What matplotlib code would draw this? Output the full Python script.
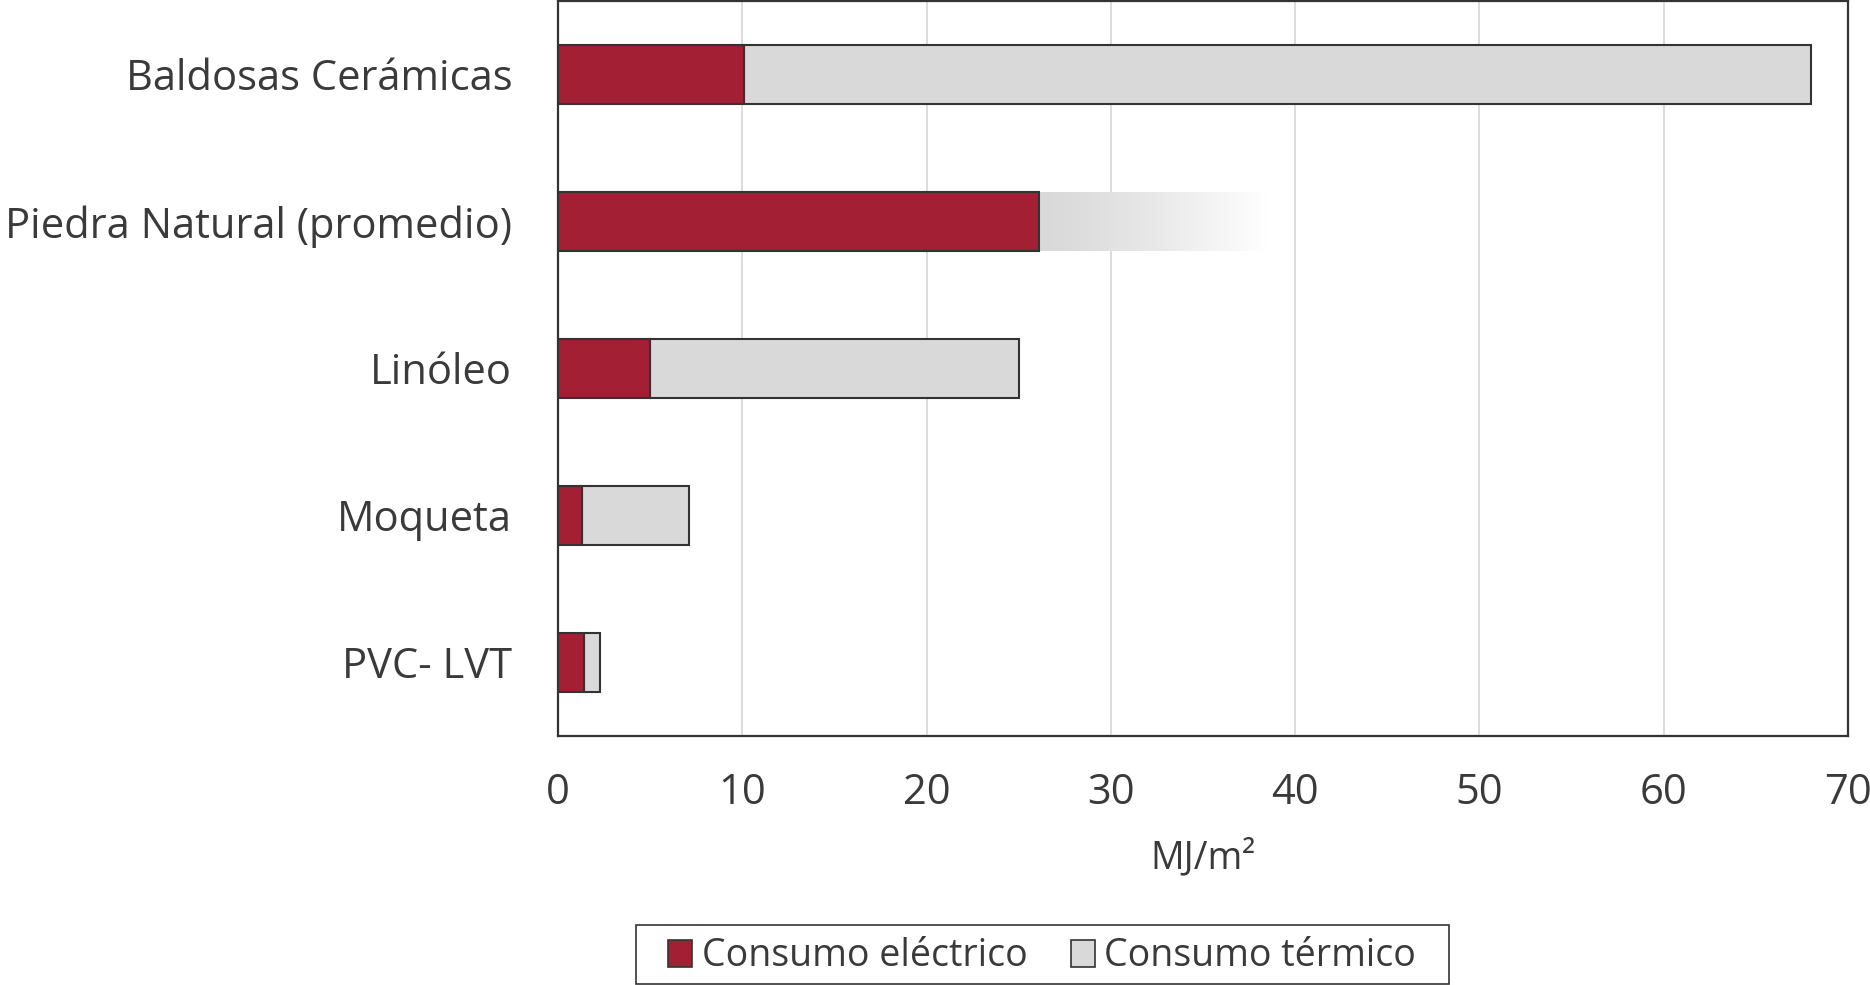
import numpy as np
import matplotlib
matplotlib.use("Agg")
import matplotlib.pyplot as plt
from matplotlib.patches import Patch, Rectangle

# Energy consumption per square metre of floor covering (MJ/m²)
categories = ["Baldosas Cerámicas", "Piedra Natural (promedio)", "Linóleo", "Moqueta", "PVC- LVT"]
electrico = [10.1, 26.1, 5.0, 1.3, 1.4]
termico = [57.9, 12.3, 20.0, 5.8, 0.9]
faded = [False, True, False, False, False]   # thermal share shown as a fading band
x_ticks = [0, 10, 20, 30, 40, 50, 60, 70]

RED = "#A31F34"
GREY = "#D9D9D9"
EDGE = "#333333"
TXT = "#3A3A3A"
FONT = "Open Sans"
FS = 30

plt.rcParams["font.family"] = [FONT, "DejaVu Sans"]

fig = plt.figure(figsize=(18.7, 9.85), dpi=100)
ax = fig.add_axes([0.2984, 0.2528, 0.6898, 0.7462])

y = np.arange(len(categories))
h = 0.40

for spine in ax.spines.values():
    spine.set_color(EDGE)
    spine.set_linewidth(1.6)

ax.set_xticks(x_ticks)
ax.xaxis.grid(True, color=GREY, linewidth=1.3)
ax.set_axisbelow(True)

for yi, e, t, f in zip(y, electrico, termico, faded):
    if f:
        # fading band from grey to white across the thermal share
        ramp = np.linspace(0, 1, 256) ** 1.3
        g = 0xD9 / 255
        col = g + (1 - g) * ramp
        img = np.dstack([col, col, col, np.ones_like(col)])
        ax.imshow(img, extent=(e, e + t, yi + h / 2, yi - h / 2), aspect="auto",
                  interpolation="bilinear", zorder=2.5)
    else:
        ax.barh(yi, t, left=e, height=h, color=GREY, edgecolor=EDGE, linewidth=1.5, zorder=3)
ax.barh(y, electrico, height=h, color=RED, edgecolor=EDGE, linewidth=1.5, zorder=4)
ax.set_xlim(0, 70)
ax.set_ylim(len(categories) - 0.5, -0.5)

ax.set_yticks(y)
ax.set_yticklabels(categories)
ax.tick_params(axis="both", length=0, labelsize=FS, labelcolor=TXT)
ax.tick_params(axis="y", pad=33)
ax.tick_params(axis="x", pad=26)

ax.set_xlabel("MJ/m²", fontsize=FS - 3, color=TXT, labelpad=18)

# legend frame, running off the bottom edge of the figure
fig.patches.append(Rectangle((0.3401, 0.001), 0.4348, 0.0600, transform=fig.transFigure,
                             facecolor="none", edgecolor=EDGE, linewidth=1.2))
handles = [Patch(facecolor=RED, edgecolor=EDGE, linewidth=1.2, label="Consumo eléctrico"),
           Patch(facecolor=GREY, edgecolor=EDGE, linewidth=1.2, label="Consumo térmico")]
leg = fig.legend(handles=handles, loc="center", bbox_to_anchor=(0.5573, 0.029),
                 ncol=2, fontsize=FS - 3, frameon=False, borderaxespad=0, borderpad=0,
                 handlelength=0.65, handleheight=0.75, handletextpad=0.25,
                 columnspacing=1.15, labelcolor=TXT)

fig.savefig("out.png", dpi=100, facecolor="white")
